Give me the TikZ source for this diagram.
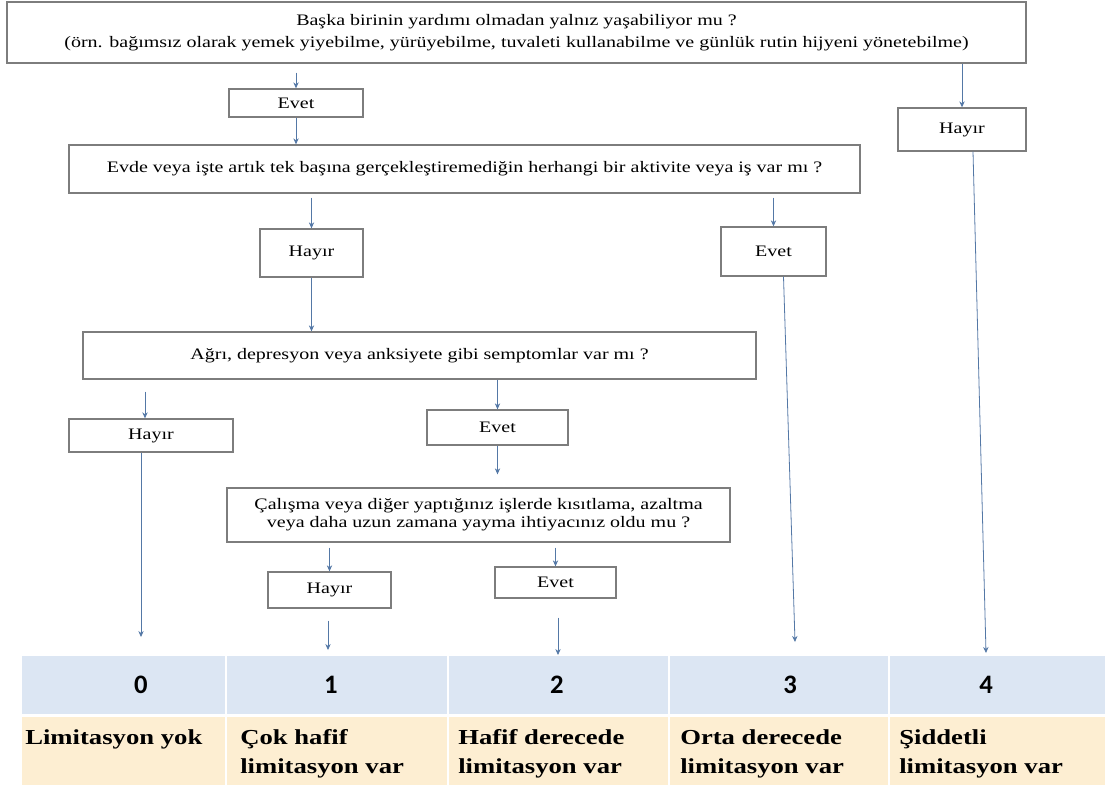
\documentclass[tikz,border=0pt]{standalone}
\usepackage{fontspec}
\setmainfont{Liberation Serif}[FakeStretch=1.25]
\newfontfamily\numfont{Carlito}
\usetikzlibrary{arrows.meta}
\definecolor{arrowblue}{RGB}{84,120,166}
\definecolor{boxgray}{RGB}{125,125,125}
\definecolor{rowblue}{RGB}{220,230,243}
\definecolor{rowyellow}{RGB}{253,238,210}

\begin{document}
\begin{tikzpicture}[x=0.75pt,y=0.75pt,yscale=-1,
    qbox/.style={draw=boxgray, line width=1pt, fill=white, align=center, inner sep=0pt, font=\fontsize{12}{16.3}\selectfont},
    arr/.style={draw=arrowblue, line width=0.6pt, -{Stealth[length=4.5pt,width=4pt]}},
    numtext/.style={font=\numfont\bfseries\fontsize{20}{24}\selectfont},
    grade/.style={anchor=north west, inner sep=0pt, align=left, font=\bfseries\fontsize{16}{21.75}\selectfont}]
  \useasboundingbox (0,0) rectangle (1106,785);

  %Shape: Table rows
  \foreach \xa/\xb in {21/226,226/448,448/669,669/889,889/1106} {
    \fill[rowblue] ({\xa+1},656) rectangle ({\xb-1},714);
    \fill[rowyellow] ({\xa+1},717) rectangle ({\xb-1},785);
  }

  % Question and answer boxes
  \node[qbox, minimum width=764.25pt, minimum height=45.75pt] (q1) at (516.5,32.5) {Başka birinin  yardımı olmadan yalnız yaşabiliyor mu ?\\(örn. bağımsız olarak  yemek yiyebilme,  yürüyebilme,  tuvaleti  kullanabilme  ve günlük  rutin  hijyeni  yönetebilme)};
  \node[qbox, minimum width=100.5pt, minimum height=21pt] (e1) at (296,103) {Evet};
  \node[qbox, minimum width=96pt, minimum height=32.25pt] (h4) at (962,129.5) {Hayır};
  \node[qbox, minimum width=593.25pt, minimum height=36pt] (q2) at (464.5,169) {Evde veya işte artık tek başına gerçekleştiremediğin  herhangi  bir aktivite  veya iş var mı ?};
  \node[qbox, minimum width=77.25pt, minimum height=36pt] (h1) at (311.5,253) {Hayır};
  \node[qbox, minimum width=78.75pt, minimum height=36.75pt] (e3) at (773.5,251.5) {Evet};
  \node[qbox, minimum width=504.75pt, minimum height=35.25pt] (q3) at (419.5,355.5) {Ağrı, depresyon veya anksiyete gibi  semptomlar var mı ?};
  \node[qbox, minimum width=123pt, minimum height=24.75pt] (h0) at (151,435.5) {Hayır};
  \node[qbox, minimum width=105.75pt, minimum height=26.25pt] (e2a) at (497.5,427.5) {Evet};
  \node[qbox, minimum width=377.25pt, minimum height=40.5pt, font=\fontsize{12}{13.7}\selectfont] (q4) at (478.5,515) {Çalışma veya diğer yaptığınız işlerde kısıtlama, azaltma\\veya daha uzun zamana yayma ihtiyacınız oldu mu ?};
  \node[qbox, minimum width=92.25pt, minimum height=27pt] (h1b) at (329.5,590) {Hayır};
  \node[qbox, minimum width=90.75pt, minimum height=23.25pt] (e2) at (555.5,582.5) {Evet};

  % Arrow ends above the scale
  \coordinate (a0) at (141,637);
  \coordinate (a1) at (328,650);
  \coordinate (a2) at (558,655);
  \coordinate (a3) at (795,642);
  \coordinate (a4) at (986,653);

  %Straight Lines
  \draw[arr, shorten <=6.75pt] (e1.north |- q1.south) -- (e1.north);
  \draw[arr] (h4.north |- q1.south) -- (h4.north);
  \draw[arr] (e1.south) -- (e1.south |- q2.north);
  \draw[arr, shorten <=3pt] (h1.north |- q2.south) -- (h1.north);
  \draw[arr, shorten <=3pt] (e3.north |- q2.south) -- (e3.north);
  \draw[arr] (h1.south) -- (h1.south |- q3.north);
  \draw[arr, shorten <=9pt] ([xshift=-4.5pt]h0.north |- q3.south) -- ([xshift=-4.5pt]h0.north);
  \draw[arr] (e2a.north |- q3.south) -- (e2a.north);
  \draw[arr, shorten >=9.75pt] (e2a.south) -- (e2a.south |- q4.north);
  \draw[arr, shorten <=3.75pt] (h1b.north |- q4.south) -- (h1b.north);
  \draw[arr, shorten <=3.75pt] (e2.north |- q4.south) -- (e2.north);
  \draw[arr] (a0 |- h0.south) -- (a0);
  \draw[arr, shorten <=9pt] (a1 |- h1b.south) -- (a1);
  \draw[arr, shorten <=14.25pt] (a2 |- e2.south) -- (a2);
  \draw[arr] ([xshift=7.5pt]e3.south) -- (a3);
  \draw[arr] ([xshift=8.25pt]h4.south) -- (a4);

  % Text Node
  \node[numtext] (n0) at (141,685) {0};
  \node[numtext] (n1) at (331,685) {1};
  \node[numtext] (n2) at (557,685) {2};
  \node[numtext] (n3) at (790,685) {3};
  \node[numtext] (n4) at (986,685) {4};
  % Text Node
  \node[grade] (l0) at (25,729) {Limitasyon yok};
  \node[grade] (l1) at (240,729) {Çok hafif\\limitasyon var};
  \node[grade] (l2) at (458,729) {Hafif derecede\\limitasyon var};
  \node[grade] (l3) at (680,729) {Orta derecede\\limitasyon var};
  \node[grade] (l4) at (899,729) {Şiddetli\\limitasyon var};
\end{tikzpicture}
\end{document}
